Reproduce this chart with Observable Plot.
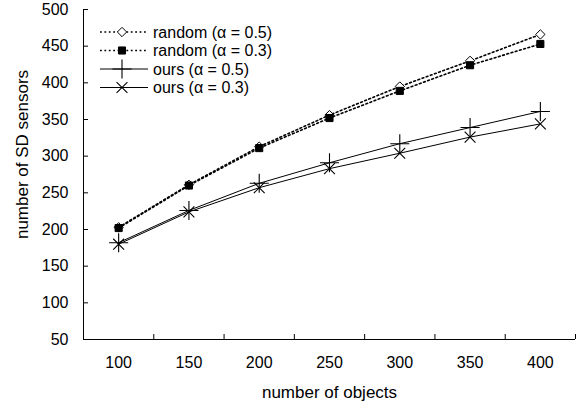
<!DOCTYPE html>
<html><head><meta charset="utf-8">
<script src="https://cdn.jsdelivr.net/npm/d3@7"></script>
<script src="https://cdn.jsdelivr.net/npm/@observablehq/plot@0.6"></script>
<style>body{margin:0;background:#fff}#chart{width:587px;height:409px}</style>
</head><body><div id="chart"></div>
<script>
// ---- data ----
const objects = [100, 150, 200, 250, 300, 350, 400];
const random05 = [203, 261, 313, 356, 395, 430, 466];
const random03 = [202, 260, 311, 352, 389, 424, 453];
const ours05 = [182, 226, 263, 291, 317, 339, 361];
const ours03 = [180, 224, 257, 283, 304, 326, 344];
const seriesNames = ["random (α = 0.5)", "random (α = 0.3)", "ours (α = 0.5)", "ours (α = 0.3)"];
const xLabels = [100, 150, 200, 250, 300, 350, 400];
const xBounds = [75, 125, 175, 225, 275, 325, 375, 425];
const yTicks = [50, 100, 150, 200, 250, 300, 350, 400, 450, 500];
const xTitle = "number of objects";
const yTitle = "number of SD sensors";

// ---- styles ----
const styles = [
  {symbol: "diamond2", fill: "white", dash: "1.8,2.6", r: 4.2, sw: 1.6, mw: 1},
  {symbol: "square", fill: "black", dash: "1.8,2.6", r: 4.0, sw: 1.6, mw: 1},
  {symbol: "plus", fill: "none", dash: null, r: 6.2, sw: 1, mw: 1.1},
  {symbol: "times", fill: "none", dash: null, r: 5.0, sw: 1, mw: 1.1}
];
const series = [random05, random03, ours05, ours03];
const rows = series.map((vals, s) => objects.map((x, i) => ({x, y: vals[i], s})));

const W = 587, H = 409, ml = 83, mr = 12, mt = 9, mb = 70;
const FS = 16;
const font = "'Liberation Sans', Arial, sans-serif";

const marks = [];
rows.forEach((data, s) => {
  const st = styles[s];
  marks.push(Plot.line(data, {x: "x", y: "y", stroke: "black", strokeWidth: st.sw, strokeDasharray: st.dash}));
});
rows.forEach((data, s) => {
  const st = styles[s];
  const isStroke = st.fill === "none";
  marks.push(Plot.dot(data, {x: "x", y: "y", symbol: () => st.symbol, r: st.r,
    fill: isStroke ? "none" : st.fill, stroke: "black", strokeWidth: st.mw}));
});

const plot = Plot.plot({
  width: W, height: H, marginLeft: ml, marginRight: mr, marginTop: mt, marginBottom: mb,
  style: {fontFamily: font, fontSize: FS + "px", color: "#000", background: "#fff", overflow: "visible"},
  x: {domain: [75, 425], label: null},
  y: {domain: [50, 500], label: null},
  symbol: {type: "identity"},
  marks: [
    Plot.axisY(yTicks, {tickSize: 0, tickPadding: 15, label: null, fontSize: FS}),
    Plot.tickY(yTicks, {y: d => d, stroke: "black", insetRight: W - ml - mr - 5}),
    Plot.axisX(xLabels, {tickSize: 0, tickPadding: 17, label: null, fontSize: FS}),
    Plot.tickX(xBounds, {x: d => d, stroke: "black", insetTop: H - mt - mb - 5}),
    Plot.ruleX([75], {stroke: "black"}),
    Plot.ruleY([50], {stroke: "black"}),
    Plot.text([xTitle], {frameAnchor: "bottom", dy: 58, fontSize: 17, textAnchor: "middle", text: d => d}),
    Plot.text([yTitle], {frameAnchor: "left", rotate: -90, dx: -61, dy: -20, fontSize: 17, textAnchor: "middle", text: d => d}),
    ...marks
  ]
});
document.getElementById("chart").appendChild(plot);

// ---- legend (inside plot area, top-left) ----
const svg = d3.select(plot);
const lg = svg.append("g").attr("font-family", font).attr("font-size", FS).attr("text-anchor", "start");
const rowY = [32, 50.5, 69, 87.5];
const d3sym = {diamond2: d3.symbolDiamond2, square: d3.symbolSquare, plus: d3.symbolPlus, times: d3.symbolTimes};
seriesNames.forEach((name, s) => {
  const st = styles[s];
  const g = lg.append("g").attr("transform", `translate(0,${rowY[s]})`);
  g.append("line").attr("x1", 100).attr("x2", 148).attr("y1", 0).attr("y2", 0)
    .attr("stroke", "black").attr("stroke-width", st.sw).attr("stroke-dasharray", st.dash);
  g.append("path").attr("transform", "translate(122,0)")
    .attr("d", d3.symbol(d3sym[st.symbol], Math.PI * st.r * st.r)())
    .attr("fill", st.fill).attr("stroke", "black").attr("stroke-width", st.mw);
  g.append("text").attr("x", 153).attr("y", 0).attr("dy", "0.35em").attr("text-anchor", "start").text(name);
});
</script></body></html>
